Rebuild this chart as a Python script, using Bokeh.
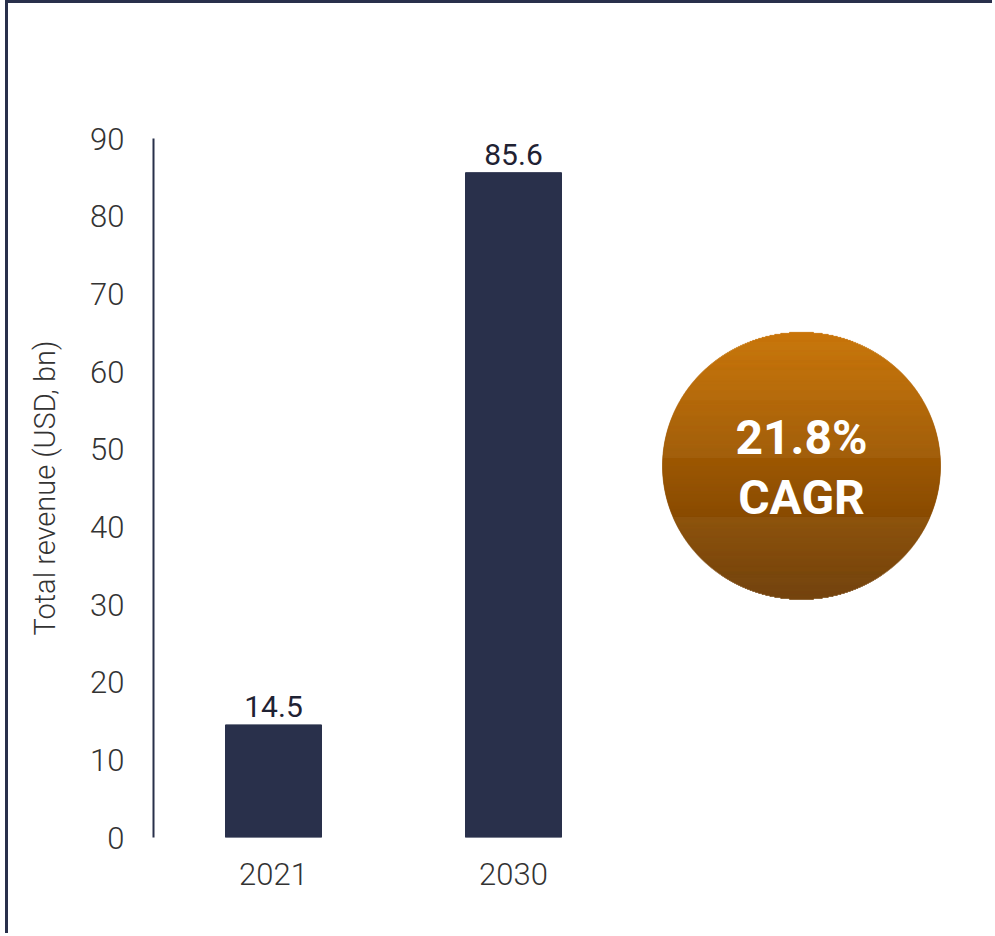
import math
from bokeh.plotting import figure
from bokeh.models import Range1d, FixedTicker, ColumnDataSource
from bokeh.core.properties import value
from bokeh.embed import file_html
from bokeh.resources import INLINE

# ---- data ----
years = ["2021", "2030"]
revenue = [14.5, 85.6]
y_ticks = [0, 10, 20, 30, 40, 50, 60, 70, 80, 90]
cagr_label = "21.8%"
cagr_word = "CAGR"
y_title = "Total revenue (USD, bn)"

NAVY = "#29304b"
xs = [i + 0.5 for i in range(len(years))]

p = figure(width=987, height=933, x_range=Range1d(0, 3.3625), y_range=Range1d(0, 90),
           output_backend="svg", toolbar_location=None, title=None,
           min_border_left=145, min_border_top=135, min_border_bottom=99, min_border_right=35,
           styles={"border-top": "3px solid " + NAVY, "border-left": "3px solid " + NAVY,
                   "margin-left": "5px"})
p.outline_line_color = None
p.xgrid.visible = False
p.ygrid.visible = False
p.background_fill_color = "white"
p.border_fill_color = "white"

# pixel overlay ranges for the decorative badge
p.extra_x_ranges = {"px": Range1d(153, 960)}
p.extra_y_ranges = {"px": Range1d(836, 140)}

src = ColumnDataSource(dict(x=xs, top=revenue, year=years,
                            label=["%.1f" % v for v in revenue]))
p.vbar(x="x", top="top", bottom=0, width=0.4, color=NAVY, source=src)
p.text(x="x", y="top", text="label", source=src, text_align="center", text_baseline="bottom",
       y_offset=-8, text_font=value("Roboto"), text_font_size="30px", text_color="#1f2233")

# y axis
ya = p.yaxis[0]
ya.ticker = FixedTicker(ticks=y_ticks)
ya.axis_line_color = NAVY
ya.axis_line_width = 2
ya.major_tick_line_color = None
ya.minor_tick_line_color = None
ya.major_label_standoff = 23
ya.major_label_text_font = "Roboto Light"
ya.major_label_text_font_size = "31px"
ya.major_label_text_color = "#333333"
ya.axis_label = y_title
ya.axis_label_text_font = "Roboto Light"
ya.axis_label_text_font_size = "29px"
ya.axis_label_text_font_style = "normal"
ya.axis_label_text_color = "#333333"
ya.axis_label_standoff = 25

# x axis
xa = p.xaxis[0]
xa.ticker = FixedTicker(ticks=xs)
xa.major_label_overrides = {x: y for x, y in zip(xs, years)}
xa.axis_line_color = None
xa.major_tick_line_color = None
xa.minor_tick_line_color = None
xa.major_label_standoff = 19
xa.major_label_text_font = "Roboto Light"
xa.major_label_text_font_size = "31px"
xa.major_label_text_color = "#333333"

# gradient badge (ellipse built from 1px strips)
cx, cy, a, b = 801.0, 466.0, 139.0, 133.0
n = int(2 * b)
lefts, rights, tops, bottoms, cols = [], [], [], [], []
c0 = (200, 113, 0)
c1 = (110, 60, 5)
for i in range(n):
    top = cy - b + i
    mid = top + 0.5
    dy = (mid - cy) / b
    hw = a * math.sqrt(max(0.0, 1 - dy * dy))
    t = i / (n - 1)
    col = "#%02x%02x%02x" % tuple(int(round(c0[k] + (c1[k] - c0[k]) * t)) for k in range(3))
    lefts.append(cx - hw); rights.append(cx + hw)
    tops.append(top); bottoms.append(top + 1.0)
    cols.append(col)
p.quad(left=lefts, right=rights, top=tops, bottom=bottoms, fill_color=cols, line_color=cols,
       line_width=0.6, x_range_name="px", y_range_name="px")
p.text(x=[cx, cx], y=[438, 497], text=[cagr_label, cagr_word], text_align="center",
       text_baseline="middle", text_font=value("Roboto"), text_font_style="bold",
       text_font_size="48px", text_color="white", x_range_name="px", y_range_name="px")

open("out.html", "w").write(file_html(p, INLINE))
